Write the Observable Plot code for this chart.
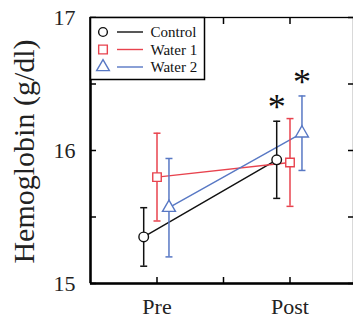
<!DOCTYPE html>
<html><head><meta charset="utf-8">
<script src="https://cdn.jsdelivr.net/npm/d3@7"></script>
<script src="https://cdn.jsdelivr.net/npm/@observablehq/plot@0.6"></script>
<style>
body{margin:0;background:#fff}
#chart{width:353px;height:320px;overflow:hidden}
</style>
</head><body><div id="chart"></div>
<script>
// ---- data ----
const phases = ["Pre", "Post"];
const groups = ["Control", "Water 1", "Water 2"];
const groupColors = ["#111111", "#e8434e", "#5878c4"];
const groupSymbols = ["circle", "square", "triangle"];
const controlMean = [15.35, 15.93];
const controlSD = [0.22, 0.29];
const water1Mean = [15.80, 15.91];
const water1SD = [0.33, 0.33];
const water2Mean = [15.57, 16.13];
const water2SD = [0.37, 0.28];
const significant = [[false, true], [false, false], [false, true]];
const yTickValues = [15, 15.5, 16, 16.5, 17];
const yTickLabels = [15, 16, 17];
const xTickValues = [1, 1.5, 2];
const xTickLabels = [1, 2];

// ---- build table ----
const means = [controlMean, water1Mean, water2Mean];
const sds = [controlSD, water1SD, water2SD];
const dodge = [-0.1, 0, 0.09];
const rows = [];
groups.forEach((g, gi) => {
  phases.forEach((p, pi) => {
    rows.push({
      group: g, gi, phase: p,
      x: pi + 1 + dodge[gi],
      mean: means[gi][pi],
      lo: means[gi][pi] - sds[gi][pi],
      hi: means[gi][pi] + sds[gi][pi],
      color: groupColors[gi],
      symbol: groupSymbols[gi],
      sig: significant[gi][pi]
    });
  });
});
const caps = rows.flatMap(d => [{...d, y: d.lo}, {...d, y: d.hi}]);

const capSymbol = {draw(ctx, size) { const r = Math.sqrt(size / Math.PI); ctx.moveTo(-r, 0); ctx.lineTo(r, 0); }};
const serif = "'Liberation Serif', 'Times New Roman', serif";
const markerR = {circle: 4.8, square: 4.8, triangle: 4.8};
const legendRowStep = 17.5;

const chart = Plot.plot({
  width: 353, height: 320,
  marginLeft: 90, marginTop: 17, marginBottom: 37, marginRight: 0,
  style: {fontFamily: serif, background: "white", overflow: "hidden"},
  x: {domain: [0.5, 2.5], range: [90, 356], label: null},
  y: {domain: [15, 17], range: [283, 17], label: null},
  marks: [
    Plot.frame({strokeWidth: 1.3}),
    Plot.ruleX([0.5], {strokeWidth: 2.5}),
    Plot.ruleY([15], {strokeWidth: 2.5}),
    Plot.axisY(yTickValues, {anchor: "left", tickSize: -6, tickFormat: () => "", label: null, strokeWidth: 1.5}),
    Plot.axisY(yTickValues, {anchor: "right", tickSize: -6, tickFormat: () => "", label: null, strokeWidth: 1.5}),
    Plot.axisY(yTickLabels, {anchor: "left", tickSize: 0, tickPadding: 15, fontSize: 22, label: null, fill: "#222", tickFormat: d => String(d)}),
    Plot.axisX(xTickValues, {anchor: "bottom", tickSize: -6, tickFormat: () => "", label: null, strokeWidth: 1.5}),
    Plot.axisX(xTickValues, {anchor: "top", tickSize: -6, tickFormat: () => "", label: null, strokeWidth: 1.5}),
    Plot.axisX(xTickLabels, {anchor: "bottom", tickSize: 0, tickPadding: 15, fontSize: 22, label: null, fill: "#222", tickFormat: v => phases[v - 1]}),
    Plot.text(["Hemoglobin (g/dl)"], {frameAnchor: "left", textAnchor: "middle", rotate: -90, dx: -66, dy: 1, fontSize: 30, fill: "#222"}),
    Plot.line(rows, {x: "x", y: "mean", z: "group", stroke: "color", strokeWidth: 1.4}),
    Plot.ruleX(rows, {x: "x", y1: "lo", y2: "hi", stroke: "color", strokeWidth: 1.5}),
    Plot.dot(caps, {x: "x", y: "y", symbol: capSymbol, r: 3.5, stroke: "color", fill: "none", strokeWidth: 1.5}),
    ...groupSymbols.map((s, gi) => Plot.dot(rows.filter(d => d.gi === gi), {x: "x", y: "mean", symbol: s, r: markerR[s], stroke: "color", fill: "white", strokeWidth: 1.4})),
    Plot.text(rows.filter(d => d.sig), {x: "x", y: "hi", text: () => "*", fontSize: 36, lineAnchor: "bottom", dy: -2, fill: "#111"}),
    // legend labels
    ...groups.map((g, gi) => Plot.text([g], {frameAnchor: "top-left", textAnchor: "start", lineAnchor: "middle", dx: 60, dy: 15 + gi * legendRowStep, fontSize: 15, fill: "#111", className: "legend-text"}))
  ]
});
document.getElementById("chart").appendChild(chart);

// ---- legend box, symbols and line keys (inside frame, top-left) ----
const svg = d3.select(chart);
const lg = svg.insert("g", ".legend-text");
lg.append("rect").attr("x", 90.5).attr("y", 17.5).attr("width", 114).attr("height", 62)
  .attr("fill", "white").attr("stroke", "black").attr("stroke-width", 1.5);
groups.forEach((g, gi) => {
  const cy = 32 + gi * legendRowStep;
  const sym = d3.symbol().type([d3.symbolCircle, d3.symbolSquare, d3.symbolTriangle][gi]).size([60, 75, 70][gi]);
  lg.append("path").attr("d", sym()).attr("transform", `translate(103,${cy})`)
    .attr("fill", "white").attr("stroke", groupColors[gi]).attr("stroke-width", 1.4);
  lg.append("line").attr("x1", 117).attr("x2", 143).attr("y1", cy).attr("y2", cy)
    .attr("stroke", groupColors[gi]).attr("stroke-width", 1.4);
});
</script>
</body></html>
